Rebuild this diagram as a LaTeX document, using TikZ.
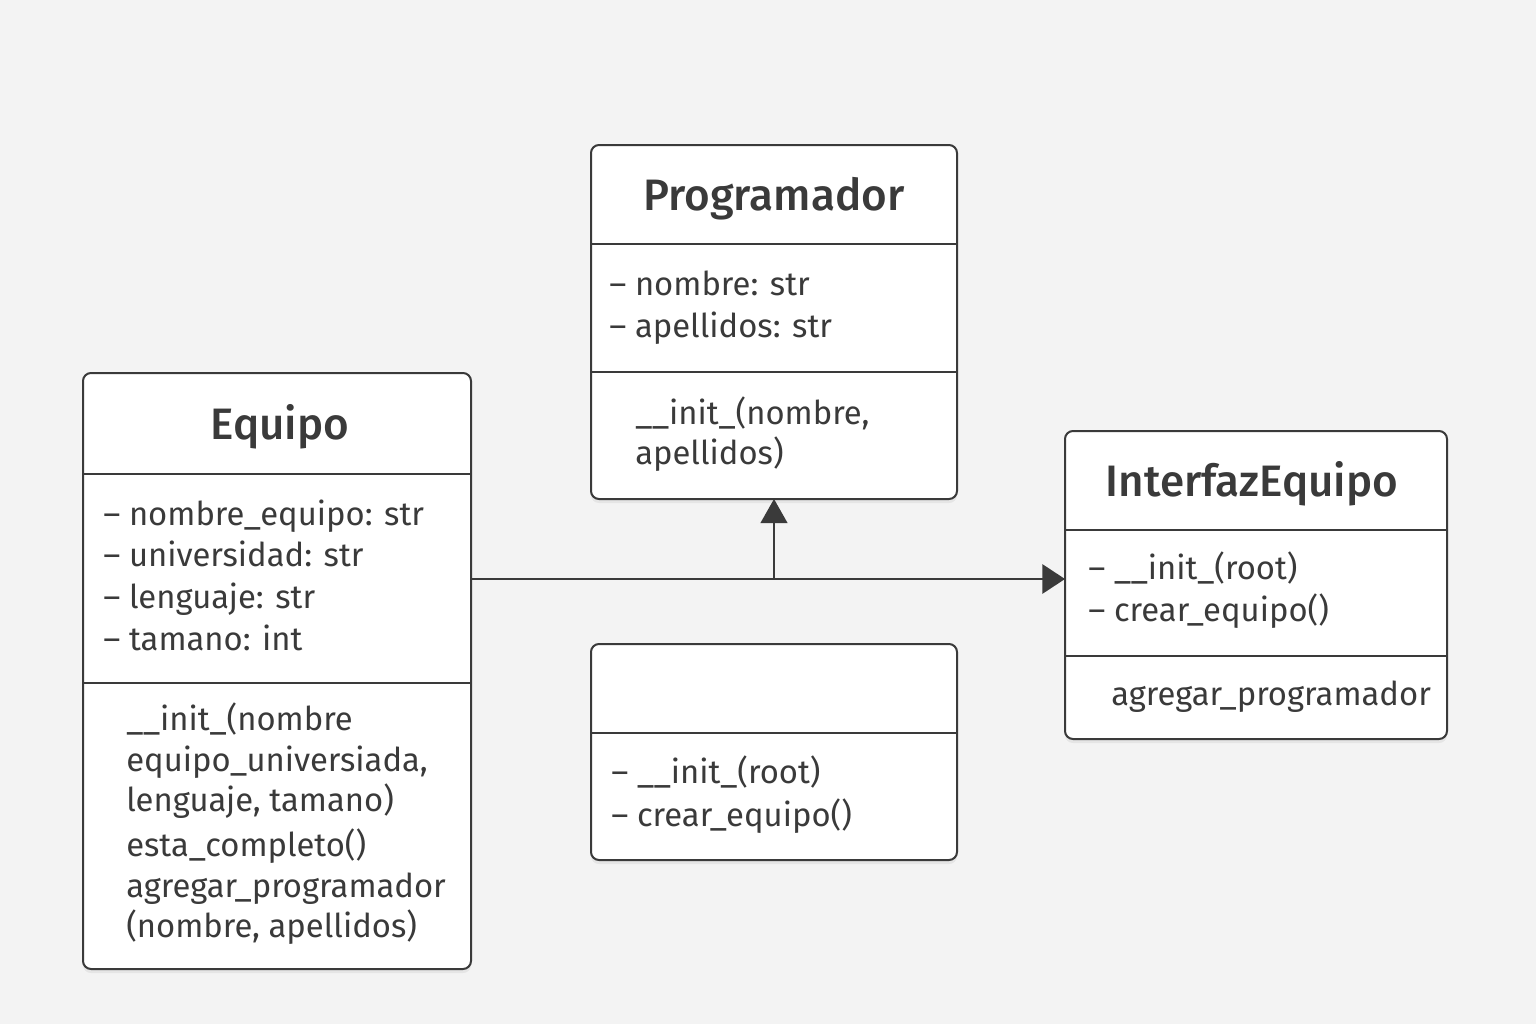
\documentclass[tikz,border=0pt]{standalone}
\usepackage{fontspec}
\setmainfont{Fira Sans}
\newfontfamily\titlefont{Fira Sans Medium}
\usetikzlibrary{arrows.meta,shadows}
\definecolor{ink}{HTML}{3A3A3A}
\definecolor{paper}{HTML}{F3F3F3}
\tikzstyle{classbox} = [draw=ink,line width=1.5pt,fill=white,rounded corners=6pt,inner sep=0pt,outer sep=0pt,drop shadow={opacity=0.12,shadow xshift=0pt,shadow yshift=-3pt}]
\tikzstyle{classname} = [text=ink,anchor=base,inner sep=0pt,font=\titlefont\fontsize{33}{38}\selectfont]
\tikzstyle{member} = [text=ink,anchor=mid west,inner sep=0pt,font=\fontsize{24.6}{29}\selectfont]
\tikzstyle{divider} = [draw=ink,line width=1.5pt]

\begin{document}
\begin{tikzpicture}[x=0.75pt,y=-0.75pt]
		\fill[paper] (0,0) rectangle (1536,1024);
		% class boxes
		\node[classbox,minimum width=274.5pt,minimum height=265.5pt] (prog) at (774,322) {};
		\node[classbox,minimum width=291pt,minimum height=447pt] (equipo) at (277,671) {};
		\node[classbox,minimum width=286.5pt,minimum height=231pt] (interfaz) at (1256,585) {};
		\node[classbox,minimum width=274.5pt,minimum height=162pt] (vacio) at (774,752) {};
		% dividers
		\draw[divider] (prog.west |- 0,244) -- (prog.east |- 0,244);
		\draw[divider] (prog.west |- 0,372) -- (prog.east |- 0,372);
		\draw[divider] (equipo.west |- 0,474) -- (equipo.east |- 0,474);
		\draw[divider] (equipo.west |- 0,683) -- (equipo.east |- 0,683);
		\draw[divider] (interfaz.west |- 0,530) -- (interfaz.east |- 0,530);
		\draw[divider] (interfaz.west |- 0,656) -- (interfaz.east |- 0,656);
		\draw[divider] (vacio.west |- 0,733) -- (vacio.east |- 0,733);
		% Programador
		\node[classname] (progT) at (774,210) {Programador};
		\node[member] (progA1) at (609,292) {– nombre: str};
		\node[member] (progA2) at (609,334) {– apellidos: str};
		\node[member] (progM1) at (635,421) {\_\_init\_(nombre,};
		\node[member] (progM2) at (635,461) {apellidos)};
		% Equipo
		\node[classname] (equipoT) at (280,439) {Equipo};
		\node[member] (equipoA1) at (103,522) {– nombre\_equipo: str};
		\node[member] (equipoA2) at (103,563) {– universidad: str};
		\node[member] (equipoA3) at (103,605) {– lenguaje: str};
		\node[member] (equipoA4) at (103,647) {– tamano: int};
		\node[member] (equipoM1) at (126,727) {\_\_init\_(nombre};
		\node[member] (equipoM2) at (126,768) {equipo\_universiada,};
		\node[member] (equipoM3) at (126,808) {lenguaje, tamano)};
		\node[member] (equipoM4) at (126,853) {esta\_completo()};
		\node[member] (equipoM5) at (126,894) {agregar\_programador};
		\node[member] (equipoM6) at (126,934) {(nombre, apellidos)};
		% InterfazEquipo
		\node[classname] (interfazT) at (1252,496) {InterfazEquipo};
		\node[member] (interfazA1) at (1088,576) {– \_\_init\_(root)};
		\node[member] (interfazA2) at (1088,618) {– crear\_equipo()};
		\node[member] (interfazM1) at (1111,702) {agregar\_programador};
		% unnamed box
		\node[member] (vacioA1) at (611,780) {– \_\_init\_(root)};
		\node[member] (vacioA2) at (611,823) {– crear\_equipo()};
		% connectors
		\coordinate (j) at (prog.south |- 0,579);
		\draw[ink,line width=1.5pt,-{Triangle[length=17pt,width=22pt]}] (equipo.east |- j) -- (interfaz.west |- j);
		\draw[ink,line width=1.5pt,-{Triangle[length=18pt,width=20pt]}] (j) -- (prog.south);
\end{tikzpicture}
\end{document}
